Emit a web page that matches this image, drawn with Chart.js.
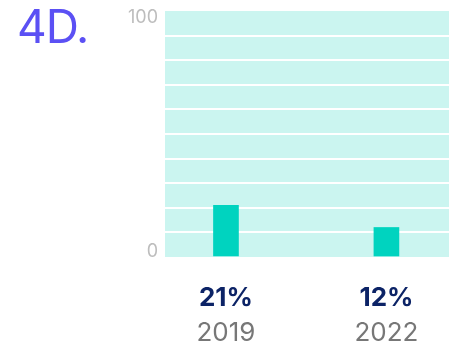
<!DOCTYPE html>
<html>
<head>
<meta charset="utf-8">
<script src="https://cdn.jsdelivr.net/npm/chart.js@4/dist/chart.umd.min.js"></script>
<style>
  html, body { margin: 0; padding: 0; background: #fff; }
  #wrap { position: relative; width: 456px; height: 343px; }
  #heading {
    position: absolute; left: 17px; top: 3px; margin: 0;
    font: 400 46px/1 Inter, "Noto Sans", sans-serif;
    color: #5b50f4; letter-spacing: -1px;
  }
</style>
</head>
<body>
<div id="wrap">
  <canvas id="chart" width="456" height="343"></canvas>
  <h1 id="heading">4D.</h1>
</div>
<script>
// Share by year
const years = ['2019', '2022'];
const shares = [21, 12];
const percentLabels = shares.map(v => v + '%');
const yLabelValues = [0, 100];

const FONT = 'Inter, "Noto Sans", sans-serif';

// Fills the plotting area with a pale mint panel behind the grid
const plotBackground = {
  id: 'plotBackground',
  beforeDraw(chart, args, opts) {
    const { ctx, chartArea: a } = chart;
    ctx.save();
    ctx.fillStyle = opts.color;
    ctx.fillRect(a.left, a.top, a.right - a.left, a.bottom - a.top);
    ctx.restore();
  }
};

const categoryTicks = scale => { scale.ticks = years.map((_, i) => ({ value: i })); };

new Chart(document.getElementById('chart'), {
  type: 'bar',
  data: {
    datasets: [{
      data: shares.map((v, i) => ({ x: i, y: v })),
      backgroundColor: '#00d3bf',
      borderWidth: 0,
      barThickness: 25,
      xAxisID: 'x',
      yAxisID: 'y'
    }]
  },
  options: {
    responsive: false,
    animation: false,
    layout: { padding: { top: 11, right: 7, left: 0, bottom: 0 } },
    plugins: {
      legend: { display: false },
      tooltip: { enabled: false },
      plotBackground: { color: '#cbf5f0' }
    },
    scales: {
      x: {
        type: 'linear', position: 'bottom', weight: 1, offset: false,
        min: -0.38, max: 1.39,
        grid: { display: false, drawTicks: false },
        border: { display: false },
        afterBuildTicks: categoryTicks,
        afterFit: s => { s.height = 54; },
        ticks: {
          padding: 28, maxRotation: 0, autoSkip: false,
          color: '#0c2366',
          font: { family: FONT, size: 26, weight: 700, lineHeight: '26px' },
          callback: (v, i) => percentLabels[i]
        }
      },
      x2: {
        type: 'linear', position: 'bottom', weight: 2, offset: false,
        min: -0.38, max: 1.39,
        grid: { display: false, drawTicks: false },
        border: { display: false },
        afterBuildTicks: categoryTicks,
        afterFit: s => { s.height = 32; },
        ticks: {
          padding: 9, maxRotation: 0, autoSkip: false,
          color: '#777777',
          font: { family: FONT, size: 26, weight: 400, lineHeight: '26px' },
          callback: (v, i) => years[i]
        }
      },
      y: {
        min: 0, max: 100,
        grid: {
          drawTicks: false,
          lineWidth: 2,
          color: c => (c.tick && yLabelValues.includes(c.tick.value)) ? 'rgba(0,0,0,0)' : '#ffffff'
        },
        border: { display: false },
        afterFit: s => { s.width = 165; s.paddingTop = 0; s.paddingBottom = 0; },
        ticks: {
          stepSize: 10,
          autoSkip: false,
          padding: 7,
          color: '#bdbdbd',
          // the empty line nudges each end label inside the panel
          font: c => ({
            family: FONT, size: 18, weight: 400,
            lineHeight: (c.tick && c.tick.value === 100) ? '13px' : '10px'
          }),
          callback: v => {
            if (v === yLabelValues[0]) return [String(v), ''];
            if (v === yLabelValues[1]) return ['', String(v)];
            return '';
          }
        }
      }
    }
  },
  plugins: [plotBackground]
});
</script>
</body>
</html>
